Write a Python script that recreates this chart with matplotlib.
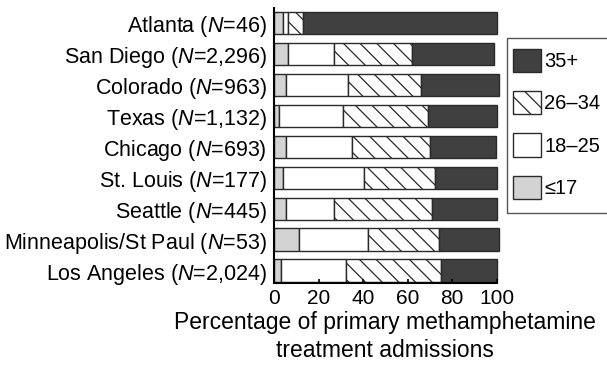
import matplotlib
matplotlib.use("Agg")
import matplotlib.pyplot as plt
from matplotlib.patches import Rectangle
import numpy as np

plt.rcParams["font.family"] = ["Liberation Sans", "DejaVu Sans"]
plt.rcParams["mathtext.fontset"] = "custom"
plt.rcParams["mathtext.rm"] = "Liberation Sans"
plt.rcParams["mathtext.it"] = "Liberation Sans:italic"
plt.rcParams["hatch.linewidth"] = 0.9

# Sites, listed top to bottom
sites = ["Atlanta", "San Diego", "Colorado", "Texas", "Chicago",
         "St. Louis", "Seattle", "Minneapolis/St Paul", "Los Angeles"]
n_admissions = ["46", "2,296", "963", "1,132", "693", "177", "445", "53", "2,024"]

# Percentage of admissions by age group
age_le17 = [4.2, 6.1, 5.2, 2.2, 5.2, 4.2, 5.2, 11.4, 3.1]
age_18_25 = [2.2, 21.0, 28.0, 28.9, 30.0, 36.1, 21.9, 30.8, 29.1]
age_26_34 = [6.8, 35.0, 32.8, 37.9, 35.0, 31.9, 44.0, 32.1, 42.9]
age_35plus = [86.8, 36.7, 35.2, 31.0, 29.5, 27.8, 28.9, 26.9, 24.9]

group_labels = ["\u226417", "18\u201325", "26\u201334", "35+"]
xticks = [0, 20, 40, 60, 80, 100]

W, H = 607, 367
fig = plt.figure(figsize=(W / 100, H / 100), dpi=100)
ax = fig.add_axes([274 / W, 1 - 283.3 / H, (496.7 - 274) / W, (283.3 - 8.3) / H])

ypos = np.arange(len(sites))[::-1]
edge = "#2a2a2a"
styles = [
    dict(color="#d3d3d3", hatch=None),
    dict(color="white", hatch=None),
    dict(color="white", hatch="\\\\"),
    dict(color="#404040", hatch=None),
]
series = [age_le17, age_18_25, age_26_34, age_35plus]

left = np.zeros(len(sites))
handles = []
for vals, st, lab in zip(series, styles, group_labels):
    vals = np.array(vals)
    b = ax.barh(ypos, vals, left=left, height=0.72, color=st["color"],
                edgecolor=edge, linewidth=1.0, hatch=st["hatch"],
                label=lab, clip_on=False)
    handles.append(b)
    left += vals

ax.set_xlim(0, 100)
ax.set_ylim(-0.41, len(sites) - 1 + 0.47)
ax.set_yticks(ypos)
ax.set_yticklabels([f"{s} ($\\mathit{{N}}$={n})" for s, n in zip(sites, n_admissions)],
                   fontsize=15.5)
ax.set_xticks(xticks)
ax.set_xticklabels([str(t) for t in xticks], fontsize=15)
ax.tick_params(axis="y", length=0, pad=5)
ax.tick_params(axis="x", direction="in", length=3, width=1.2, pad=4, color="black")
for s in ["top", "right"]:
    ax.spines[s].set_visible(False)
for s in ["left", "bottom"]:
    ax.spines[s].set_linewidth(1.5)
    ax.spines[s].set_color("black")

ax.set_xlabel("Percentage of primary methamphetamine\ntreatment admissions",
              fontsize=16.5, labelpad=2, linespacing=1.3)

# Legend, largest age group first
leg = fig.legend(handles[::-1], group_labels[::-1], loc="upper left",
                 bbox_to_anchor=(513 / W, 1 - 48.5 / H), frameon=False,
                 borderpad=0, borderaxespad=0, fontsize=14.5,
                 handlelength=1.4, handleheight=1.4, handletextpad=0.15,
                 labelspacing=0.95)
fig.add_artist(Rectangle((507.3 / W, 1 - 213 / H), 140 / W, (213 - 38.3) / H,
                         transform=fig.transFigure, facecolor="none",
                         edgecolor="#555555", linewidth=1.0, clip_on=False))

fig.savefig("out.png", dpi=100)
